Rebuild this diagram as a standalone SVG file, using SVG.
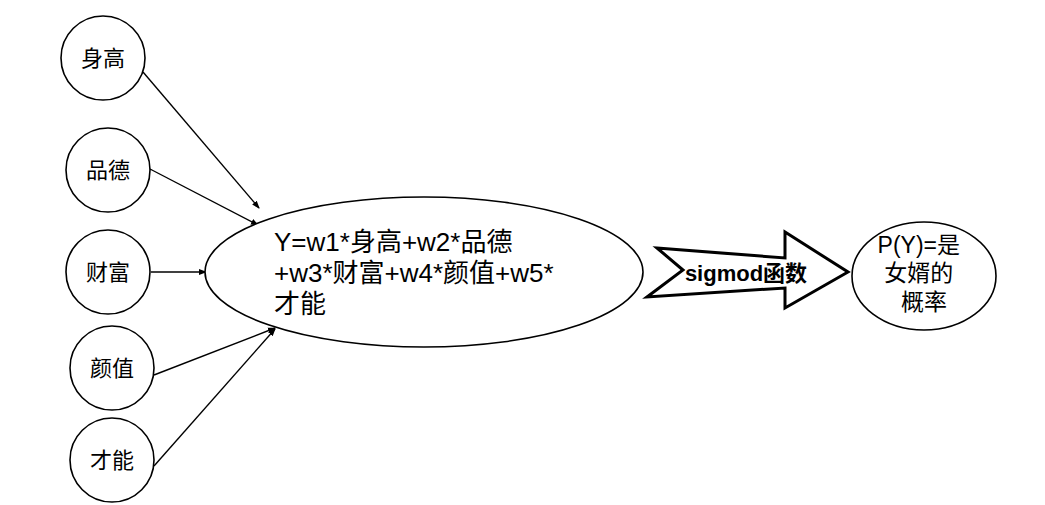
<svg xmlns="http://www.w3.org/2000/svg" width="1045" height="505" viewBox="0 0 1045 505">
<defs>
<style>
.n{fill:#fff;stroke:#000;stroke-width:1.6}
.t{font-family:"Liberation Sans","Noto Sans CJK SC",sans-serif;fill:#000}
.c{stroke:#000;stroke-width:1.4;fill:none;marker-end:url(#ah)}
</style>
<marker id="ah" markerWidth="8" markerHeight="8" refX="7" refY="4" orient="auto" markerUnits="userSpaceOnUse">
<path d="M0,1 L8,4 L0,7 Z" fill="#000"/>
</marker>
</defs>
<rect width="1045" height="505" fill="#fff"/>
<g id="connectors">
<line class="c" x1="143" y1="72" x2="259" y2="208"/>
<line class="c" x1="150" y1="169" x2="258" y2="225"/>
<line class="c" x1="151" y1="272" x2="206" y2="272"/>
<line class="c" x1="154" y1="375" x2="275" y2="328"/>
<line class="c" x1="154" y1="466" x2="275" y2="329"/>
</g>
<g id="n-shengao">
<circle class="n" cx="103" cy="58" r="42"/>
<text class="t" x="103" y="66" font-size="22" text-anchor="middle">身高</text>
</g>
<g id="n-pinde">
<circle class="n" cx="108" cy="170" r="42"/>
<text class="t" x="108" y="178" font-size="22" text-anchor="middle">品德</text>
</g>
<g id="n-caifu">
<circle class="n" cx="108" cy="272" r="42"/>
<text class="t" x="108" y="280" font-size="22" text-anchor="middle">财富</text>
</g>
<g id="n-yanzhi">
<circle class="n" cx="112" cy="368" r="42"/>
<text class="t" x="112" y="376" font-size="22" text-anchor="middle">颜值</text>
</g>
<g id="n-caineng">
<circle class="n" cx="112" cy="460" r="42"/>
<text class="t" x="112" y="468" font-size="22" text-anchor="middle">才能</text>
</g>
<g id="n-formula">
<ellipse class="n" cx="424" cy="272" rx="219" ry="75"/>
<text class="t" font-size="26">
<tspan x="274" y="251">Y=w1*身高+w2*品德</tspan>
<tspan x="274" y="282">+w3*财富+w4*颜值+w5*</tspan>
<tspan x="274" y="313">才能</tspan>
</text>
</g>
<g id="n-sigmoid">
<polygon points="657,248 785,258 785,232 848,272 785,308 785,288 647,297 683,270" fill="#fff" stroke="#000" stroke-width="3" stroke-linejoin="miter"/>
<text class="t" x="746" y="281" font-size="22" text-anchor="middle" font-weight="bold">sigmod函数</text>
</g>
<g id="n-prob">
<ellipse class="n" cx="924" cy="276" rx="72" ry="54"/>
<text class="t" font-size="23" text-anchor="middle">
<tspan x="922" y="253">P(Y)=是</tspan>
<tspan x="922" y="281">女婿的</tspan>
<tspan x="924" y="310">概率</tspan>
</text>
</g>
</svg>
